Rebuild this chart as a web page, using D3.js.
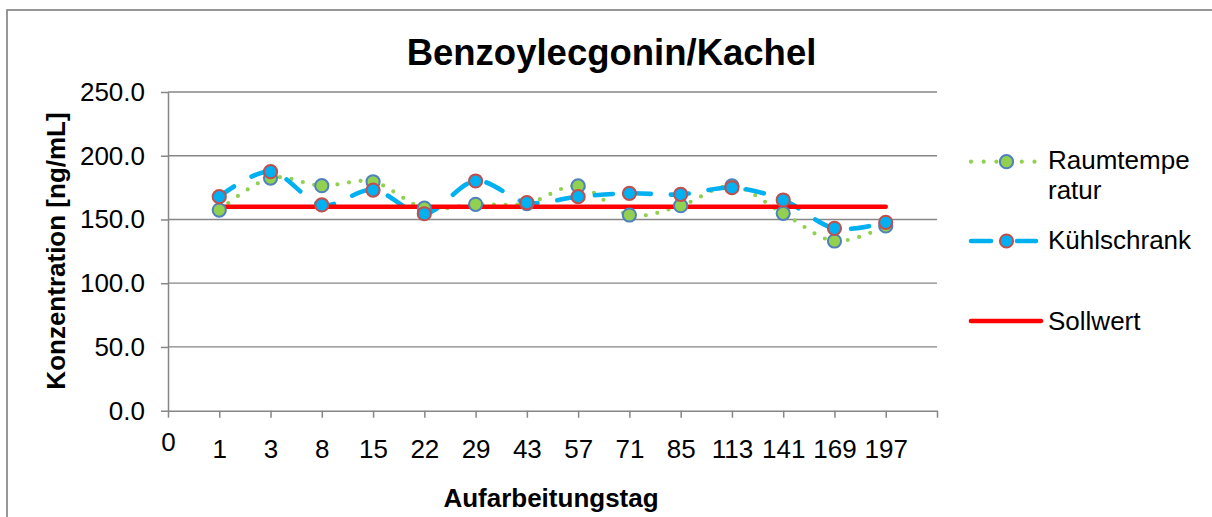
<!DOCTYPE html>
<html>
<head>
<meta charset="utf-8">
<script src="https://cdn.jsdelivr.net/npm/d3@7"></script>
<style>
  html, body { margin: 0; padding: 0; background: #fff; }
  svg { display: block; }
  text { font-family: "Liberation Sans", Arial, sans-serif; fill: #000; }
</style>
</head>
<body>
<svg id="chart" width="1212" height="517"></svg>
<script>
// ---- data ----
const title = "Benzoylecgonin/Kachel";
const xAxisTitle = "Aufarbeitungstag";
const yAxisTitle = "Konzentration [ng/mL]";
const days = ["1", "3", "8", "15", "22", "29", "43", "57", "71", "85", "113", "141", "169", "197"];
const raumtemperatur = [157.4, 182.5, 176.5, 179.6, 159.0, 161.9, 162.5, 176.3, 153.5, 160.8, 176.3, 154.8, 133.1, 144.9];
const kuehlschrank = [167.9, 187.5, 161.4, 173.1, 154.5, 180.2, 163.2, 167.9, 170.5, 169.7, 174.9, 165.3, 143.1, 147.8];
const sollwert = [160, 160, 160, 160, 160, 160, 160, 160, 160, 160, 160, 160, 160, 160];
const yTicks = [0, 50, 100, 150, 200, 250];
const seriesNames = ["Raumtempe", "ratur", "Kühlschrank", "Sollwert"];

// ---- layout ----
const svg = d3.select("#chart");
const plot = { left: 168, right: 937, top: 92, bottom: 410.7 };
const axisColor = "#868686";
const green = "#92D050", greenEdge = "#4F81BD";
const blue = "#00B0F0", blueEdge = "#C0504D";
const red = "#FF0000";
const mr = 6.6;

// chart border (extends beyond the visible window on right/bottom)
svg.append("rect").attr("x", 7).attr("y", 10).attr("width", 1300).attr("height", 600)
  .attr("fill", "none").attr("stroke", axisColor).attr("stroke-width", 1.7);

const x = d3.scaleLinear().domain([0, days.length + 1]).range([plot.left, plot.right]);
const y = d3.scaleLinear().domain([0, 250]).range([plot.bottom, plot.top]);

// gridlines
svg.append("g").selectAll("line").data(yTicks.filter(d => d > 0)).join("line")
  .attr("x1", plot.left).attr("x2", plot.right)
  .attr("y1", d => y(d)).attr("y2", d => y(d))
  .attr("stroke", axisColor).attr("stroke-width", 1.3);

// y axis
const yAxis = svg.append("g").attr("transform", `translate(${plot.left},0)`)
  .call(d3.axisLeft(y).tickValues(yTicks).tickFormat(d3.format(".1f")).tickSize(7).tickSizeOuter(0).tickPadding(16));
yAxis.selectAll("text").attr("font-size", 26).attr("fill", "#000")
  .attr("font-family", '"Liberation Sans", Arial, sans-serif');

// x axis
const xTickVals = d3.range(0, days.length + 2);
const xLabels = ["0"].concat(days);
const xAxis = svg.append("g").attr("transform", `translate(0,${plot.bottom})`)
  .call(d3.axisBottom(x).tickValues(xTickVals).tickSize(7).tickSizeOuter(0).tickPadding(22)
    .tickFormat(i => xLabels[i] !== undefined ? xLabels[i] : ""));
xAxis.selectAll("text").attr("font-size", 26).attr("fill", "#000")
  .attr("font-family", '"Liberation Sans", Arial, sans-serif')
  .attr("dy", (d) => d === 0 ? "0.44em" : "0.71em");

[yAxis, xAxis].forEach(g => {
  g.selectAll("path.domain").attr("stroke", axisColor).attr("stroke-width", 1.5);
  g.selectAll(".tick line").attr("stroke", axisColor).attr("stroke-width", 1.5);
});

// lines
const line = d3.line().x((d, i) => x(i + 1)).y(d => y(d)).curve(d3.curveCardinal.tension(0));
const straight = d3.line().x((d, i) => x(i + 1)).y(d => y(d));

svg.append("path").datum(raumtemperatur).attr("d", line)
  .attr("fill", "none").attr("stroke", green).attr("stroke-width", 4.2)
  .attr("stroke-linecap", "round").attr("stroke-dasharray", "0,11.7");
svg.append("path").datum(kuehlschrank).attr("d", line)
  .attr("fill", "none").attr("stroke", blue).attr("stroke-width", 4.6)
  .attr("stroke-linecap", "round").attr("stroke-dasharray", "18,20");
svg.append("path").datum(sollwert).attr("d", straight)
  .attr("fill", "none").attr("stroke", red).attr("stroke-width", 4.6)
  .attr("stroke-linecap", "round");

// markers
svg.append("g").selectAll("circle").data(raumtemperatur).join("circle")
  .attr("cx", (d, i) => x(i + 1)).attr("cy", d => y(d)).attr("r", mr)
  .attr("fill", green).attr("stroke", greenEdge).attr("stroke-width", 2);
svg.append("g").selectAll("circle").data(kuehlschrank).join("circle")
  .attr("cx", (d, i) => x(i + 1)).attr("cy", d => y(d)).attr("r", mr)
  .attr("fill", blue).attr("stroke", blueEdge).attr("stroke-width", 2);

// titles
svg.append("text").attr("x", 611.5).attr("y", 65).attr("text-anchor", "middle")
  .attr("font-size", 36.5).attr("font-weight", "bold").text(title);
svg.append("text").attr("x", 551).attr("y", 507).attr("text-anchor", "middle")
  .attr("font-size", 26).attr("font-weight", "bold").text(xAxisTitle);
svg.append("text").attr("transform", "translate(65,251) rotate(-90)").attr("text-anchor", "middle")
  .attr("font-size", 26).attr("font-weight", "bold").text(yAxisTitle);

// legend
const lg = svg.append("g");
const lx0 = 971, lx1 = 1036, lmx = 1006.5, ltx = 1048;
// Raumtemperatur
lg.append("line").attr("x1", lx0).attr("x2", lx1).attr("y1", 161.7).attr("y2", 161.7)
  .attr("stroke", green).attr("stroke-width", 4.2).attr("stroke-linecap", "round").attr("stroke-dasharray", "0,12.7");
lg.append("circle").attr("cx", lmx).attr("cy", 161.7).attr("r", mr)
  .attr("fill", green).attr("stroke", greenEdge).attr("stroke-width", 2);
lg.append("text").attr("x", ltx).attr("y", 169).attr("font-size", 26).text(seriesNames[0]);
lg.append("text").attr("x", ltx).attr("y", 198.5).attr("font-size", 26).text(seriesNames[1]);
// Kühlschrank
lg.append("line").attr("x1", lx0).attr("x2", lx1).attr("y1", 241).attr("y2", 241)
  .attr("stroke", blue).attr("stroke-width", 4.6).attr("stroke-linecap", "round").attr("stroke-dasharray", "20,26");
lg.append("circle").attr("cx", lmx).attr("cy", 241).attr("r", mr)
  .attr("fill", blue).attr("stroke", blueEdge).attr("stroke-width", 2);
lg.append("text").attr("x", ltx).attr("y", 249).attr("font-size", 26).text(seriesNames[2]);
// Sollwert
lg.append("line").attr("x1", lx0).attr("x2", 1041).attr("y1", 321).attr("y2", 321)
  .attr("stroke", red).attr("stroke-width", 4.6).attr("stroke-linecap", "round");
lg.append("text").attr("x", ltx).attr("y", 329.5).attr("font-size", 26).text(seriesNames[3]);
</script>
</body>
</html>
